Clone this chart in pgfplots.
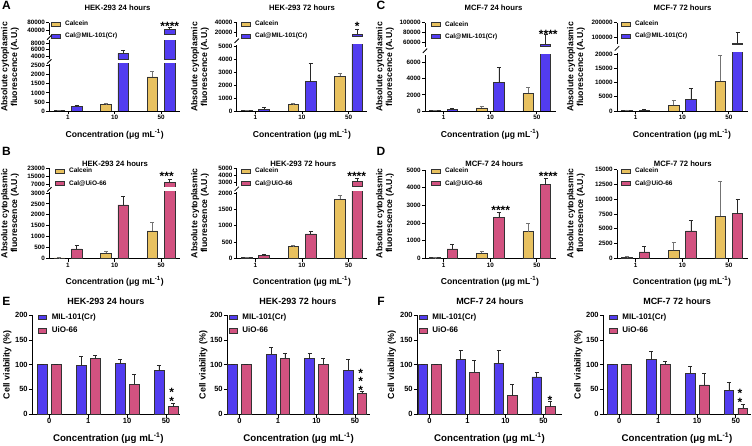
\documentclass[border=0pt]{standalone}
\usepackage{fontspec}
\setmainfont{Liberation Sans}
\usepackage{pgfplots}
\pgfplotsset{compat=1.18}
\usepackage{pgfplotstable}

\definecolor{cyel}{RGB}{232,193,95}
\definecolor{cblu}{RGB}{82,60,240}
\definecolor{cpnk}{RGB}{210,82,128}
\definecolor{ebg}{RGB}{115,115,115}
\definecolor{edk}{RGB}{40,40,40}

\newcommand\fs[1]{\fontsize{#1}{#1}\selectfont\bfseries}

% ---------- data: fluorescence (x: 1=1, 2=10, 3=50 ug/mL)
\pgfplotstableread{
x cal calE mof mofE
1 20 8 240 70
2 350 70 4850 950
3 1880 300 46000 9000
}\dAl
\pgfplotstableread{
x cal calE mof mofE
1 25 10 130 150
2 500 70 2280 1400
3 2720 200 16000 10500
}\dAr
\pgfplotstableread{
x cal calE mof mofE
1 40 15 230 100
2 380 200 3550 1900
3 2200 750 55000 20000
}\dCl
\pgfplotstableread{
x cal calE mof mofE
1 200 200 300 300
2 2000 1850 4200 3750
3 10500 9100 56000 74000
}\dCr
\pgfplotstableread{
x cal calE mof mofE
1 15 8 430 150
2 230 110 2450 400
3 1260 370 8600 3600
}\dBl
\pgfplotstableread{
x cal calE mof mofE
1 25 10 80 30
2 360 30 750 80
3 1815 125 3050 500
}\dBr
\pgfplotstableread{
x cal calE mof mofE
1 30 10 530 280
2 280 135 2320 280
3 1510 470 4170 360
}\dDl
\pgfplotstableread{
x cal calE mof mofE
1 150 100 1070 960
2 1350 1300 4630 1800
3 7100 6000 7560 2480
}\dDr
% ---------- data: viability (x: 1=0, 2=1, 3=10, 4=50 ug/mL)
\pgfplotstableread{
x mil milE uio uioE
1 100 0 100 0
2 98 18 112 7
3 102 8 60 20
4 88 10 15 6
}\dEl
\pgfplotstableread{
x mil milE uio uioE
1 100 0 100 0
2 121 14 113 9
3 112 11 101 11
4 89 22 42 3
}\dEr
\pgfplotstableread{
x mil milE uio uioE
1 100 0 100 0
2 110 19 85 23
3 103 26 37 23
4 75 9 15 11
}\dFl
\pgfplotstableread{
x mil milE uio uioE
1 100 0 100 0
2 110 16 100 7
3 83 14 59 24
4 48 16 12 7
}\dFr

\pgfplotsset{
 base/.style={scale only axis, anchor=south west, clip mode=individual, clip marker paths=true,
   axis y line*=left, ytick pos=left,
   axis line style={-, line width=0.8pt, black},
   tick style={line width=0.8pt, black},
   tick align=outside, major tick length=3.2pt,
   ticklabel style={font=\fs{6.3}},
   /pgf/number format/assume math mode=true,
   yticklabel style={/pgf/number format/fixed, /pgf/number format/1000 sep={}, inner sep=1pt},
   xticklabel style={inner sep=1pt},
   scaled y ticks=false},
 fl/.style={base, xmin=0.6, xmax=3.4, width=130.5pt},
 flbot/.style={fl, axis x line*=bottom, xtick={1,2,3}, xticklabels={1,10,50}},
 fltop/.style={fl, hide x axis},
 leg/.style 2 args={legend style={at={(0,0)}, anchor=north west, xshift=#1, yshift=#2,
   draw=none, fill=none, inner sep=0pt, font=\fs{6.5}, row sep=4.2pt,
   nodes={inner sep=0.8pt}}, legend cell align=left},
 legE/.style 2 args={legend style={at={(0,0)}, anchor=north west, xshift=#1, yshift=#2,
   draw=none, fill=none, inner sep=0pt, font=\fs{8}, row sep=4.4pt,
   nodes={inner sep=0.8pt}}, legend cell align=left},
 bars/.style n args={3}{ybar, bar width=#1, bar shift=0pt, fill=#2, draw=black!80, line width=0.6pt,
   legend image code/.code={\draw[fill=#2, draw=black!80, line width=0.6pt] (0pt,-2.1pt) rectangle (8.6pt,2.1pt); \path (12.5pt,0pt);},
   error bars/y dir=plus, error bars/y explicit,
   error bars/error bar style={line width=0.7pt, #3},
   error bars/error mark options={rotate=90, mark size=2pt, line width=0.7pt, #3}},
 pcal/.style={bars={0.225}{cyel}{ebg}},
 pmof/.style={bars={0.225}{cblu}{edk}},
 puio/.style={bars={0.225}{cpnk}{edk}},
 pmil/.style={bars={0.25}{cblu}{edk}},
 pui2/.style={bars={0.25}{cpnk}{edk}},
 ev/.style={base, axis x line*=bottom, height=98.7pt, ymin=0, ymax=200, ytick={0,50,...,200},
   xtick={1,2,3,4}, xticklabels={0,1,10,50}, ticklabel style={font=\fs{7.5}}, major tick length=3.5pt},
}

% bottom segment (baseline 0)
\newcommand\calmof[2]{%
 \addplot[pcal] table[x expr=\thisrow{x}-0.186,y=cal,y error=calE]{#1};
 \addplot[#2] table[x expr=\thisrow{x}+0.186,y=mof,y error=mofE]{#1};}
% upper segment of a broken axis: only bars that reach it (#3 = lower limit)
\newcommand\calmofT[3]{%
 \addplot[pcal, restrict y to domain=#3:1e7] table[x expr=\thisrow{x}-0.186,y=cal,y error=calE]{#1};
 \addplot[#2, restrict y to domain=#3:1e7] table[x expr=\thisrow{x}+0.186,y=mof,y error=mofE]{#1};}
\newcommand\viab[1]{%
 \addplot[pmil] table[x expr=\thisrow{x}-0.18,y=mil,y error=milE]{#1};
 \addplot[pui2] table[x expr=\thisrow{x}+0.18,y=uio,y error=uioE]{#1};}
\newcommand\stars[3]{\node[font=\fs{12}, anchor=base, inner sep=0pt] at (#1,{#2-6.8}) {#3};}
\newcommand\vstars[4]{\node[font=\fontsize{12}{#3}\selectfont\bfseries, align=center, inner sep=0pt] at (#1,#2) {#4};}
\newcommand\brk[2]{\draw[line width=0.8pt] ({#1-2.2},{#2-2.2}) -- ({#1+2.2},{#2+2.2});}
\newcommand\ylabF[2]{\node[font=\fs{8.7}, rotate=90, align=center, inner sep=0pt] at (#1,#2) {Absolute cytoplasmic\\[1.2pt]fluorescence (A.U.)};}
\newcommand\xlab[3]{\node[font=\fs{#3}, inner sep=0pt] at (#1,#2) {Concentration (μg mL\textsuperscript{-1})};}

\begin{document}
\begin{tikzpicture}[x=1pt,y=1pt]
\useasboundingbox (0,0) rectangle (752,445);

% ================= A left: HEK-293 24 h, MIL
\begin{axis}[flbot, at={(49.3pt,334pt)}, height=47.1pt, ymin=0, ymax=2600, ytick={0,500,...,2500}, leg={1.7pt}{90.8pt}]
\calmof{\dAl}{pmof}
\legend{Calcein,Cal@MIL-101(Cr)}
\end{axis}
\begin{axis}[fltop, at={(49.3pt,385.8pt)}, height=19pt, ymin=3000, ymax=9000, ytick={4000,6000,8000}]
\calmofT{\dAl}{pmof}{3000}
\end{axis}
\begin{axis}[fltop, at={(49.3pt,410.3pt)}, height=12pt, ymin=20000, ymax=80000, ytick={40000,80000}]
\calmofT{\dAl}{pmof}{20000}
\end{axis}
\brk{49.3}{383.5}\brk{49.3}{407.5}

% ================= A right: HEK-293 72 h, MIL
\begin{axis}[flbot, at={(236.7pt,334pt)}, height=66.2pt, ymin=0, ymax=5150, ytick={0,1000,...,5000}, leg={4.3pt}{90.8pt}]
\calmof{\dAr}{pmof}
\legend{Calcein,Cal@MIL-101(Cr)}
\end{axis}
\begin{axis}[fltop, at={(236.7pt,408.3pt)}, height=14pt, ymin=10000, ymax=40000, ytick={20000,40000}]
\calmofT{\dAr}{pmof}{10000}
\end{axis}
\brk{236.7}{404.2}

% ================= C left: MCF-7 24 h, MIL
\begin{axis}[flbot, at={(425pt,334pt)}, height=56.4pt, ymin=0, ymax=7000, ytick={0,2000,4000,6000}, leg={6pt}{90.5pt}]
\calmof{\dCl}{pmof}
\legend{Calcein,Cal@MIL-101(Cr)}
\end{axis}
\begin{axis}[fltop, at={(425pt,398.2pt)}, height=24.1pt, ymin=50000, ymax=100000, ytick={60000,80000,100000}]
\calmofT{\dCl}{pmof}{50000}
\end{axis}
\brk{425}{394.3}

% ================= C right: MCF-7 72 h, MIL
\begin{axis}[flbot, at={(617pt,334pt)}, height=58.4pt, ymin=0, ymax=20500, ytick={0,5000,...,20000}, leg={4pt}{90.8pt}]
\calmof{\dCr}{pmof}
\legend{Calcein,Cal@MIL-101(Cr)}
\end{axis}
\begin{axis}[fltop, at={(617pt,400.8pt)}, height=21.5pt, ymin=50000, ymax=200000, ytick={100000,200000}]
\calmofT{\dCr}{pmof}{50000}
\end{axis}
\brk{617}{396.6}

% ================= B left: HEK-293 24 h, UiO
\begin{axis}[flbot, at={(49.3pt,186.7pt)}, height=66.4pt, ymin=0, ymax=3050, ytick={0,500,...,3000}, leg={5.7pt}{91.3pt}, legend style={row sep=4.5pt}]
\calmof{\dBl}{puio}
\legend{Calcein,Cal@UiO-66}
\end{axis}
\begin{axis}[fltop, at={(49.3pt,258.1pt)}, height=18.6pt, ymin=4000, ymax=23000, ytick={7000,15000,23000}]
\calmofT{\dBl}{puio}{4000}
\end{axis}
\brk{49.3}{255.6}

% ================= B right: HEK-293 72 h, UiO
\begin{axis}[flbot, at={(236.7pt,186.7pt)}, height=66.6pt, ymin=0, ymax=2050, ytick={0,500,...,2000}, leg={4.3pt}{91.3pt}, legend style={row sep=4.5pt}]
\calmof{\dBr}{puio}
\legend{Calcein,Cal@UiO-66}
\end{axis}
\begin{axis}[fltop, at={(236.7pt,258.9pt)}, height=17.8pt, ymin=2400, ymax=5000, ytick={3000,4000,5000}]
\calmofT{\dBr}{puio}{2400}
\end{axis}
\brk{236.7}{256.1}

% ================= D left: MCF-7 24 h, UiO
\begin{axis}[flbot, at={(425pt,186.7pt)}, height=88.3pt, ymin=0, ymax=5000, ytick={0,1000,...,5000}, leg={6pt}{91.3pt}, legend style={row sep=4.5pt}]
\calmof{\dDl}{puio}
\legend{Calcein,Cal@UiO-66}
\end{axis}

% ================= D right: MCF-7 72 h, UiO
\begin{axis}[flbot, at={(617pt,186.7pt)}, height=88.6pt, ymin=0, ymax=15000, ytick={0,2500,...,15000}, leg={4pt}{91.3pt}, legend style={row sep=4.5pt}]
\calmof{\dDr}{puio}
\legend{Calcein,Cal@UiO-66}
\end{axis}

% ================= E / F viability
\begin{axis}[ev, at={(32.3pt,31pt)}, width=147.7pt, xmin=0.563, xmax=4.36, legE={5.4pt}{101.2pt}]
\viab{\dEl}
\legend{MIL-101(Cr),UiO-66}
\end{axis}
\begin{axis}[ev, at={(227.3pt,31pt)}, width=142.7pt, xmin=0.683, xmax=4.39, legE={1pt}{101.2pt}]
\viab{\dEr}
\legend{MIL-101(Cr),UiO-66}
\end{axis}
\begin{axis}[ev, at={(417.3pt,31pt)}, width=144.4pt, xmin=0.68, xmax=4.48, legE={1pt}{101.2pt}]
\viab{\dFl}
\legend{MIL-101(Cr),UiO-66}
\end{axis}
\begin{axis}[ev, at={(603.3pt,31pt)}, width=147.7pt, xmin=0.588, xmax=4.39, legE={5pt}{101.2pt}]
\viab{\dFr}
\legend{MIL-101(Cr),UiO-66}
\end{axis}

% ================= significance stars
\stars{169.8}{421}{****}
\stars{357.3}{421}{*}
\stars{548.3}{413.3}{****}
\stars{166.7}{271}{***}
\stars{356.7}{271}{****}
\stars{500.7}{237.7}{****}
\stars{548.3}{271}{****}
\vstars{171.7}{48.5}{9}{*\\*}
\vstars{360.7}{63.3}{8.3}{*\\*\\*}
\stars{550}{47.7}{*}
\vstars{740}{47.3}{8.6}{*\\*}

% ================= titles
\node[font=\fs{7.7}] at (117.5,437.7) {HEK-293 24 hours};
\node[font=\fs{7.7}] at (302,437.7) {HEK-293 72 hours};
\node[font=\fs{7.7}] at (493.5,437.7) {MCF-7 24 hours};
\node[font=\fs{7.7}] at (682.5,437.7) {MCF-7 72 hours};
\node[font=\fs{7.7}] at (115,281.7) {HEK-293 24 hours};
\node[font=\fs{7.7}] at (303.3,281.7) {HEK-293 72 hours};
\node[font=\fs{7.7}] at (494.3,281.7) {MCF-7 24 hours};
\node[font=\fs{7.7}] at (682.8,281.7) {MCF-7 72 hours};
\node[font=\fs{9}] at (106,144) {HEK-293 24 hours};
\node[font=\fs{9}] at (298,144) {HEK-293 72 hours};
\node[font=\fs{9}] at (490,144) {MCF-7 24 hours};
\node[font=\fs{9}] at (677,144) {MCF-7 72 hours};

% ================= panel letters
\node[font=\fs{12}] at (6.5,440) {A};
\node[font=\fs{12}] at (6.5,294) {B};
\node[font=\fs{12}] at (381,440) {C};
\node[font=\fs{12}] at (381,294) {D};
\node[font=\fs{12}] at (6.5,144) {E};
\node[font=\fs{12}] at (381,144) {F};

% ================= axis labels
\ylabF{10}{378}\ylabF{200}{378}\ylabF{385}{378}\ylabF{576}{378}
\ylabF{10}{231.7}\ylabF{200}{231.7}\ylabF{385}{231.7}\ylabF{576}{231.7}
\foreach \xx in {7.3,203.3,391.7,578.3}{\node[font=\fs{8.9}, rotate=90, inner sep=0pt] at (\xx,80) {Cell viability (\%)};}
\xlab{114.6}{311}{8.6}\xlab{301.9}{311}{8.6}\xlab{490}{311}{8.6}\xlab{682}{311}{8.6}
\xlab{114.6}{164}{8.6}\xlab{301.9}{164}{8.6}\xlab{490}{164}{8.6}\xlab{682}{164}{8.6}
\xlab{108.3}{6.7}{9.7}\xlab{298.6}{6.7}{9.7}\xlab{489.5}{6.7}{9.7}\xlab{677}{6.7}{9.7}
\end{tikzpicture}
\end{document}
